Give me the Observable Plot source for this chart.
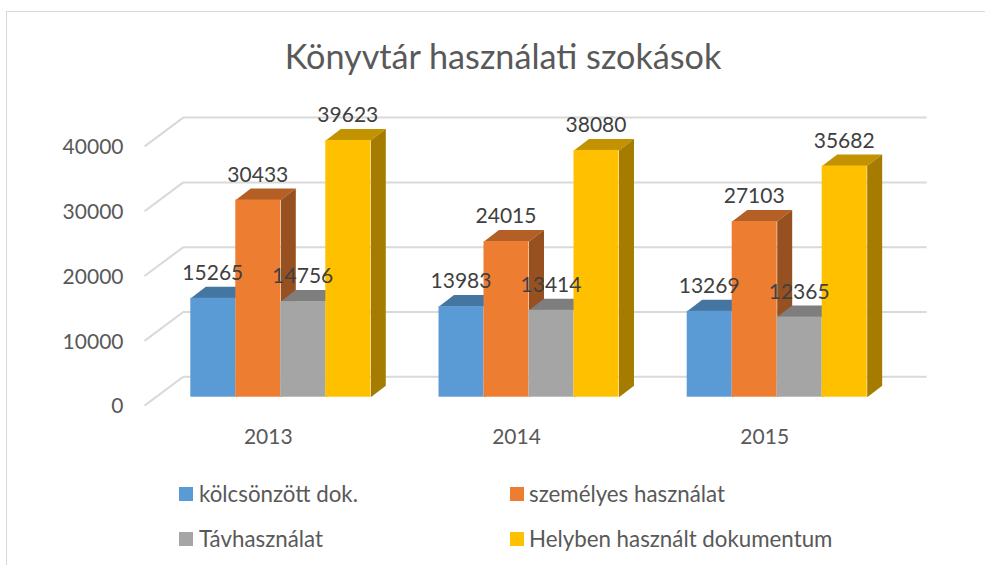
<!DOCTYPE html>
<html lang="hu">
<head>
<meta charset="utf-8">
<script src="https://cdn.jsdelivr.net/npm/d3@7"></script>
<script src="https://cdn.jsdelivr.net/npm/@observablehq/plot@0.6"></script>
<style>
  html, body { margin: 0; padding: 0; background: #fff; }
  #chart { position: relative; width: 985px; height: 565px; overflow: hidden; font-family: Lato, sans-serif; color: #595959; }
  #chart::before { content: ""; position: absolute; left: 6px; top: 11px; right: -4px; bottom: -4px; border: 1.5px solid #d9d9d9; box-sizing: border-box; }
  #title { position: absolute; left: 0; top: 0; width: 1006px; height: 85px; line-height: 112px; text-align: center; font-size: 34.2px; }
  #plot { position: absolute; left: 0; top: 85px; }
  #plot svg { display: block; }
  .leg { position: absolute; font-size: 22.3px; line-height: 24px; white-space: nowrap; }
  .sw { position: absolute; width: 14px; height: 14px; }
</style>
</head>
<body>
<div id="chart">
  <div id="title"></div>
  <div id="plot"></div>
</div>
<script>
const titleText = "Könyvtár használati szokások";
const years = [2013, 2014, 2015];
const seriesNames = ["kölcsönzött dok.", "személyes használat", "Távhasználat", "Helyben használt dokumentum"];
const kolcsonzott = [15265, 13983, 13269];
const szemelyes = [30433, 24015, 27103];
const tavhasznalat = [14756, 13414, 12365];
const helyben = [39623, 38080, 35682];
const yTicks = [0, 10000, 20000, 30000, 40000];
const frontColors = ["#5B9BD5", "#ED7D31", "#A5A5A5", "#FFC000"];
const topColors = ["#4576A2", "#B45F25", "#7E7E7E", "#C29200"];
const sideColors = ["#3A6388", "#97501F", "#696969", "#A57C00"];

// Pseudo-3D depth, expressed in data units of the two scales
const barWidth = 0.1813;       // years
const barDepthX = 0.0604;      // years
const barDepthY = 1775;        // value units
const wallBack = 3150;         // value offset of the back wall
const floorFront = -1300;      // value offset of the front floor edge
const wallLeft = 2012.607, wallRight = 2015.604, floorLeft = 2012.451;

const allSeries = [kolcsonzott, szemelyes, tavhasznalat, helyben];
const bars = allSeries.flatMap((vals, j) => vals.map((v, i) => ({
  series: j, year: years[i], value: v,
  x1: years[i] + (j - 2) * barWidth,
  x2: years[i] + (j - 1) * barWidth
})));
const poly = (pts, key) => pts.map(([x, y]) => ({x, y, key}));
const topFace = b => poly([
  [b.x1, b.value], [b.x2, b.value],
  [b.x2 + barDepthX, b.value + barDepthY], [b.x1 + barDepthX, b.value + barDepthY]
], b.year);
const sideFace = b => poly([
  [b.x2, 0], [b.x2 + barDepthX, barDepthY],
  [b.x2 + barDepthX, b.value + barDepthY], [b.x2, b.value]
], b.year);

const fontFamily = "Lato, sans-serif";
const barMarks = frontColors.flatMap((c, j) => {
  const rows = bars.filter(b => b.series === j);
  return [
    Plot.line(rows.flatMap(topFace), {x: "x", y: "y", z: "key", fill: topColors[j], stroke: "none"}),
    Plot.line(rows.flatMap(sideFace), {x: "x", y: "y", z: "key", fill: sideColors[j], stroke: "none"}),
    Plot.rectY(rows, {x1: "x1", x2: "x2", y1: 0, y2: "value", fill: c, inset: 0})
  ];
});

const chart = Plot.plot({
  width: 985, height: 380,
  marginLeft: 126, marginRight: 0, marginTop: 0, marginBottom: 30,
  style: {fontFamily, background: "transparent", overflow: "visible"},
  x: {type: "linear", domain: [2013, 2015], range: [280.3, 776.7]},
  y: {domain: [0, 40000], range: [311.7, 52.5]},
  marks: [
    Plot.ruleY(yTicks, {y: d => d + wallBack, x1: wallLeft, x2: wallRight, stroke: "#d9d9d9", strokeWidth: 2}),
    Plot.link(yTicks, {x1: floorLeft, y1: d => d + floorFront, x2: wallLeft, y2: d => d + wallBack, stroke: "#d9d9d9", strokeWidth: 2}),
    ...barMarks,
    Plot.text(bars, {
      x: b => (b.x1 + b.x2) / 2 - 0.002, y: "value", text: b => String(b.value),
      dy: -25, fontSize: 21, fill: "#404040"
    }),
    Plot.axisY({ticks: yTicks, tickSize: 0, tickPadding: 3, dy: 9.5, label: null, fontSize: 21, color: "#595959", tickFormat: d => String(d)}),
    Plot.axisX({ticks: years, tickSize: 0, tickPadding: 0, dx: -12.5, dy: -6.5, label: null, fontSize: 21, color: "#595959", tickFormat: d => String(d)})
  ]
});
document.getElementById("plot").appendChild(chart);
document.getElementById("title").textContent = titleText;

const legendPos = [[179, 487, 199], [510, 487, 529], [179, 532, 199], [510, 532, 529]];
const root = document.getElementById("chart");
seriesNames.forEach((name, j) => {
  const [sx, sy, tx] = legendPos[j];
  const sw = document.createElement("div");
  sw.className = "sw"; sw.style.left = sx + "px"; sw.style.top = sy + "px"; sw.style.background = frontColors[j];
  const t = document.createElement("div");
  t.className = "leg"; t.style.left = tx + "px"; t.style.top = (sy - 5.5) + "px"; t.textContent = name;
  root.append(sw, t);
});
</script>
</body>
</html>
